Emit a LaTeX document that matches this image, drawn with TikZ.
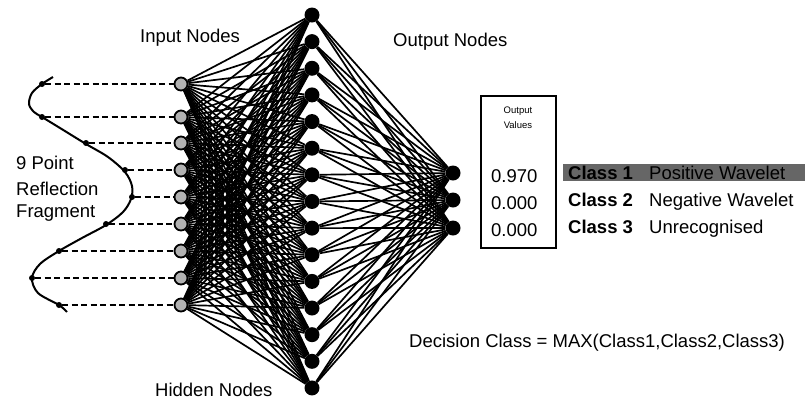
\documentclass[tikz,border=0pt]{standalone}
\usepackage{fontspec}
\setmainfont{Liberation Sans}
\begin{document}
\begin{tikzpicture}[x=1pt,y=-1pt,
  inpnode/.style={circle,draw=black,line width=1.8pt,fill=black!30,minimum size=13pt,inner sep=0pt},
  hidnode/.style={circle,fill=black,minimum size=15pt,inner sep=0pt},
  outnode/.style={circle,fill=black,minimum size=15pt,inner sep=0pt},
  wire/.style={line width=1.7pt},
  feed/.style={line width=2.2pt,dash pattern=on 6pt off 3.5pt},
  sample/.style={circle,fill=black,minimum size=6pt,inner sep=0pt},
  lbl/.style={font=\fontsize{18.5}{22}\selectfont,inner sep=0pt},
  tiny/.style={font=\fontsize{9.5}{11}\selectfont,inner sep=0pt},
]
\useasboundingbox (0,0) rectangle (809,400);

% reflection fragment (sampled wavelet)
\draw[line width=2pt] plot[smooth,tension=0.55] coordinates {
  (53,77) (42,84) (32,93) (29,104) (34,112) (42,117) (60,128) (86,144)
  (108,157) (125,172) (132,186) (131,199) (123,212) (106,225) (82,238)
  (59,251) (40,264) (32,278) (38,293) (59,305) (67,312)};

% input layer and sample points on the curve
\foreach \i/\y/\sx in {1/84/42,2/117/42,3/143/86,4/170/125,5/197/132,6/224/106,7/251/59,8/278/32,9/305/59}{
  \node[inpnode] (in\i) at (181,\y) {};
  \node[sample] (s\i) at (\sx,\y) {};
  \draw[feed] (s\i) -- (in\i);
}

% hidden layer
\foreach \j in {1,...,15}{
  \node[hidnode] (h\j) at (312,{15+(\j-1)*26.64}) {};
}

% output layer
\node[outnode] (o1) at (453,173) {};
\node[outnode] (o2) at (453,200) {};
\node[outnode] (o3) at (453,228) {};

% full connections
\foreach \i in {1,...,9}{
  \foreach \j in {1,...,15}{
    \draw[wire] (in\i) -- (h\j);
  }
}
\foreach \j in {1,...,15}{
  \foreach \k in {1,2,3}{
    \draw[wire] (h\j) -- (o\k);
  }
}

% layer titles
\node[lbl,anchor=base west] (tin) at (140,42) {Input Nodes};
\node[lbl,anchor=base west] (tout) at (393,46) {Output Nodes};
\node[lbl,anchor=base west] (thid) at (155,396) {Hidden Nodes};
\node[lbl,anchor=base west] (f1) at (16,169) {9 Point};
\node[lbl,anchor=base west] (f2) at (16,195) {Reflection};
\node[lbl,anchor=base west] (f3) at (16,217) {Fragment};

% output value box
\node[draw=black,line width=1.6pt,minimum width=75pt,minimum height=152pt,inner sep=0pt] (vbox) at (518.5,172) {};
\node[tiny,anchor=base] (vt1) at (518,113) {Output};
\node[tiny,anchor=base] (vt2) at (518,128) {Values};
\node[lbl,anchor=base west] (v1) at (491,182) {0.970};
\node[lbl,anchor=base west] (v2) at (491,209) {0.000};
\node[lbl,anchor=base west] (v3) at (491,236) {0.000};

% class labels
\node[fill=black!60,minimum width=242pt,minimum height=17pt,inner sep=0pt] (hl) at (684,172.5) {};
\node[lbl,anchor=base west,font=\fontsize{18.5}{22}\selectfont\bfseries] (c1) at (568,179) {Class 1};
\node[lbl,anchor=base west] (d1) at (649,179) {Positive Wavelet};
\node[lbl,anchor=base west,font=\fontsize{18.5}{22}\selectfont\bfseries] (c2) at (568,206) {Class 2};
\node[lbl,anchor=base west] (d2) at (649,206) {Negative Wavelet};
\node[lbl,anchor=base west,font=\fontsize{18.5}{22}\selectfont\bfseries] (c3) at (568,233) {Class 3};
\node[lbl,anchor=base west] (d3) at (649,233) {Unrecognised};

\node[lbl,anchor=base west] (dec) at (409,347) {Decision Class = MAX(Class1,Class2,Class3)};
\end{tikzpicture}
\end{document}
